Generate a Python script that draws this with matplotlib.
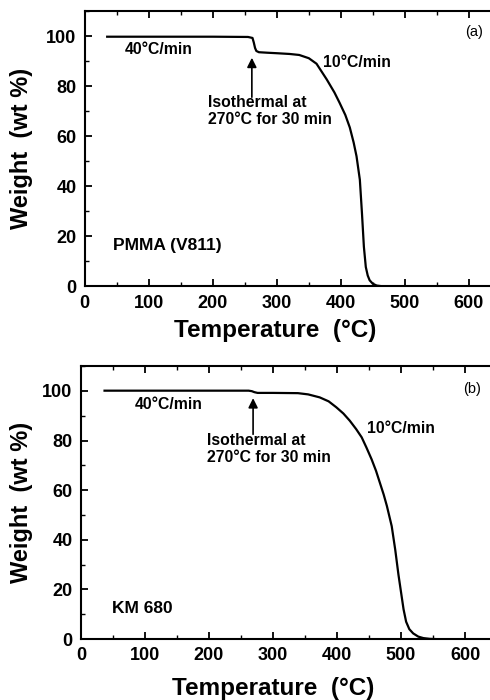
import numpy as np
import matplotlib.pyplot as plt
from matplotlib.ticker import MultipleLocator

plt.rcParams['font.family'] = ['Liberation Sans', 'DejaVu Sans']
plt.rcParams['font.weight'] = 'bold'

# Data
temp_a = [35, 100, 200, 255, 262, 264, 266, 268, 272, 285, 300, 320, 335, 350, 362, 378, 390,
          398, 407, 414, 420, 424.5, 429.7, 433, 436, 439, 442, 445, 450, 456, 465]
wt_a = [99.8, 99.8, 99.8, 99.7, 99.3, 97.5, 95.3, 94.1, 93.6, 93.4, 93.2, 92.9, 92.5, 91.2, 89.0,
        82.7, 77.5, 73.4, 68.5, 63.5, 57.5, 52, 42.6, 29.2, 15.8, 7.7, 4.3, 2.4, 1.0, 0.3, 0]

temp_b = [37, 100, 200, 262, 267, 271, 276, 300, 339, 355, 373, 387, 399, 410, 420, 430, 438.6,
          446, 454, 461, 467, 473, 478, 485.5, 491, 496, 500, 504, 508, 513, 519, 527, 535, 545, 555]
wt_b = [100.1, 100.1, 100.1, 100.1, 99.9, 99.5, 99.2, 99.2, 99.1, 98.6, 97.4, 95.8, 93.4, 90.9,
        88.0, 84.6, 81.3, 77.2, 72.5, 67.8, 63.0, 58.2, 53.6, 45.5, 36, 26, 19, 12, 7, 4, 2.3,
        1.0, 0.4, 0.1, 0]

panels = [
    dict(t=temp_a, w=wt_a, pos=[0.173, 0.591, 0.827, 0.393], xmax=633, tag='(a)', name='PMMA (V811)',
         slow=(372, 89.5), fast=(62, 94.8), iso=(192, 70), arrow=(261, 74.5, 92.5),
         tagxy=(594, 101.6), namexy=(44, 16.5), xlab_y=-0.12, ylab_x=-0.128),
    dict(t=temp_b, w=wt_b, pos=[0.165, 0.087, 0.835, 0.39], xmax=639, tag='(b)', name='KM 680',
         slow=(447, 84.9), fast=(84, 94.7), iso=(197, 76.5), arrow=(269, 81.4, 98.2),
         tagxy=(597, 100.8), namexy=(48, 12.5), xlab_y=-0.137, ylab_x=-0.117),
]

fig = plt.figure(figsize=(4.9, 7.0), dpi=100)

for p in panels:
    ax = fig.add_axes(p['pos'])
    ax.plot(p['t'], p['w'], color='black', lw=1.6)
    ax.set_xlim(0, p['xmax'])
    ax.set_ylim(0, 110)
    ax.xaxis.set_major_locator(MultipleLocator(100))
    ax.xaxis.set_minor_locator(MultipleLocator(50))
    ax.yaxis.set_major_locator(MultipleLocator(20))
    ax.yaxis.set_minor_locator(MultipleLocator(10))
    ax.tick_params(which='both', direction='in', top=True, right=False, labelsize=13, pad=6)
    ax.tick_params(which='major', length=5, width=1.3)
    ax.tick_params(which='minor', length=3, width=1.0)
    for lab in ax.get_xticklabels() + ax.get_yticklabels():
        lab.set_fontweight('bold')
    for s in ['left', 'bottom', 'top']:
        ax.spines[s].set_linewidth(1.5)
    ax.spines['right'].set_visible(False)

    ax.set_xlabel('Temperature  (°C)', fontsize=17.5, fontweight='bold')
    ax.set_ylabel('Weight  (wt %)', fontsize=17, fontweight='bold')
    ax.xaxis.set_label_coords(0.47, p['xlab_y'])
    ax.yaxis.set_label_coords(p['ylab_x'], 0.5)

    ax.text(p['fast'][0], p['fast'][1], '40°C/min', fontsize=11.3, fontweight='bold', va='center')
    ax.text(p['slow'][0], p['slow'][1], '10°C/min', fontsize=11.3, fontweight='bold', va='center')
    ax.text(p['iso'][0], p['iso'][1], 'Isothermal at\n270°C for 30 min', fontsize=11.3,
            fontweight='bold', va='center', linespacing=1.2)
    ax.text(p['tagxy'][0], p['tagxy'][1], p['tag'], fontsize=10.5, va='center', fontweight='normal')
    ax.text(p['namexy'][0], p['namexy'][1], p['name'], fontsize=12.5, fontweight='bold', va='center')

    ax_x, y0, y1 = p['arrow']
    ax.annotate('', xy=(ax_x, y1), xytext=(ax_x, y0),
                arrowprops=dict(arrowstyle='-|>', color='black', lw=1.2, mutation_scale=14))

fig.savefig('out.png', dpi=100)
